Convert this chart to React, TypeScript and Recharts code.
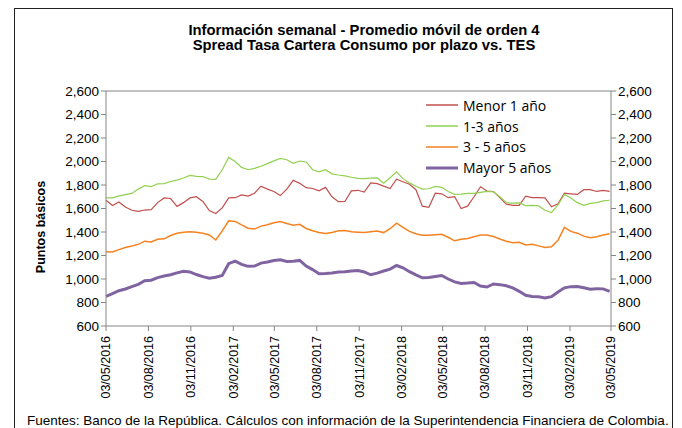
import { LineChart, Line, XAxis, YAxis, ReferenceLine } from 'recharts'

const startDate = '03/05/2016'
const stepDays = 14

const xTickLabels = [
  '03/05/2016', '03/08/2016', '03/11/2016', '03/02/2017', '03/05/2017', '03/08/2017', '03/11/2017',
  '03/02/2018', '03/05/2018', '03/08/2018', '03/11/2018', '03/02/2019', '03/05/2019',
]
const yTicks = [600, 800, 1000, 1200, 1400, 1600, 1800, 2000, 2200, 2400, 2600]

const seriesNames = ['Menor 1 año', '1-3 años', '3 - 5 años', 'Mayor 5 años']

// spread in puntos básicos, one value every two weeks
const menor1 = [
  1670, 1625, 1655, 1612, 1585, 1575, 1587, 1590, 1650, 1690,
  1685, 1618, 1650, 1690, 1700, 1660, 1582, 1558, 1605, 1690,
  1692, 1715, 1705, 1730, 1790, 1765, 1745, 1710, 1765, 1840,
  1814, 1777, 1770, 1750, 1780, 1700, 1658, 1660, 1750, 1755,
  1740, 1818, 1812, 1790, 1770, 1850, 1828, 1806, 1760, 1620,
  1610, 1730, 1725, 1692, 1700, 1600, 1620, 1700, 1785, 1749,
  1745, 1692, 1637, 1627, 1627, 1705, 1692, 1692, 1690, 1615,
  1640, 1730, 1725, 1720, 1760, 1760, 1745, 1755, 1745,
]
const entre1y3 = [
  1690, 1690, 1708, 1718, 1728, 1765, 1795, 1786, 1810, 1812,
  1830, 1842, 1860, 1882, 1874, 1872, 1850, 1848, 1930, 2035,
  2000, 1950, 1930, 1942, 1960, 1982, 2005, 2026, 2015, 1984,
  2004, 1996, 1930, 1912, 1930, 1895, 1885, 1878, 1866, 1856,
  1854, 1858, 1860, 1815, 1862, 1912, 1854, 1818, 1790, 1765,
  1768, 1788, 1780, 1744, 1720, 1722, 1729, 1729, 1738, 1746,
  1742, 1700, 1650, 1645, 1648, 1625, 1626, 1622, 1585, 1565,
  1630, 1720, 1690, 1650, 1627, 1643, 1650, 1665, 1670,
]
const entre3y5 = [
  1232, 1230, 1250, 1268, 1280, 1295, 1322, 1315, 1338, 1342,
  1370, 1390, 1398, 1402, 1398, 1390, 1375, 1332, 1410, 1495,
  1490, 1460, 1432, 1425, 1450, 1462, 1478, 1490, 1472, 1458,
  1465, 1430, 1410, 1395, 1388, 1395, 1410, 1412, 1402, 1398,
  1395, 1402, 1408, 1395, 1428, 1476, 1440, 1405, 1385, 1373,
  1372, 1377, 1380, 1355, 1325, 1338, 1345, 1360, 1375, 1375,
  1362, 1340, 1322, 1308, 1312, 1290, 1295, 1282, 1268, 1275,
  1330, 1440, 1405, 1390, 1365, 1352, 1360, 1375, 1385,
]
const mayor5 = [
  852, 875, 900, 915, 935, 955, 985, 990, 1012, 1025,
  1036, 1052, 1066, 1060, 1038, 1020, 1006, 1015, 1030, 1130,
  1152, 1125, 1108, 1110, 1135, 1145, 1158, 1164, 1150, 1152,
  1158, 1110, 1080, 1045, 1046, 1052, 1060, 1062, 1068, 1073,
  1060, 1036, 1050, 1068, 1084, 1115, 1095, 1062, 1035, 1010,
  1012, 1022, 1030, 1000, 975, 962, 965, 970, 940, 932,
  958, 952, 942, 925, 895, 862, 852, 848, 838, 850,
  890, 925, 935, 936, 925, 913, 918, 916, 895,
]

const toDay = (s: string) => {
  const [d, m, y] = s.split('/').map(Number)
  const [d0, m0, y0] = startDate.split('/').map(Number)
  return Math.round((Date.UTC(y, m - 1, d) - Date.UTC(y0, m0 - 1, d0)) / 86400000)
}

const tickDays = xTickLabels.map(toDay)
const labelByDay: Record<number, string> = {}
tickDays.forEach((d, i) => { labelByDay[d] = xTickLabels[i] })

const data = menor1.map((v, i) => ({
  day: i * stepDays,
  menor1: v,
  entre1y3: entre1y3[i],
  entre3y5: entre3y5[i],
  mayor5: mayor5[i],
}))

const colors = ['#c0504d', '#92d050', '#f58220', '#8064a2']
const widths = [1.2, 1.2, 1.5, 3]
const font = '"Liberation Sans", Arial, sans-serif'

const DateTick = (props: any) => {
  const { x, y, payload } = props
  return (
    <text
      x={x}
      y={y + 3}
      transform={`rotate(-90, ${x}, ${y + 3})`}
      textAnchor="end"
      dy="0.35em"
      fontSize={12.5}
      fontFamily={font}
      fill="#000"
    >
      {labelByDay[payload.value]}
    </text>
  )
}

const LegendBox = () => (
  <div
    style={{
      position: 'absolute', left: 426, top: 95,
      fontFamily: '"Open Sans", sans-serif', fontSize: 14, color: '#000',
    }}
  >
    {seriesNames.map((name, i) => (
      <div key={name} style={{ display: 'flex', alignItems: 'center', height: 20.8 }}>
        <svg width={32} height={6} style={{ marginRight: 5 }}>
          <line x1={0} y1={3} x2={32} y2={3} stroke={colors[i]} strokeWidth={i === 3 ? 3 : 1.5} />
        </svg>
        <span>{name}</span>
      </div>
    ))}
  </div>
)

export default function App() {
  const axisTick = { fontSize: 13.5, fontFamily: font, fill: '#000' }
  return (
    <div style={{ position: 'absolute', left: 0, top: 0, width: 682, height: 428, overflow: 'hidden', background: '#fff' }}>
      <div style={{ position: 'absolute', left: 14, top: 8, width: 657, height: 440, border: '1px solid #222' }} />
      <div
        style={{
          position: 'absolute', left: 0, top: 23, width: 728, textAlign: 'center',
          fontFamily: font, fontWeight: 'bold', fontSize: 14.8, lineHeight: '15px', color: '#000',
        }}
      >
        <div>Información semanal - Promedio móvil de orden 4</div>
        <div>Spread Tasa Cartera Consumo por plazo vs. TES</div>
      </div>
      <div
        style={{
          position: 'absolute', left: 41, top: 227, transform: 'translate(-50%, -50%) rotate(-90deg)',
          fontFamily: font, fontWeight: 'bold', fontSize: 12.5, whiteSpace: 'nowrap', color: '#000',
        }}
      >
        Puntos básicos
      </div>
      <div style={{ position: 'absolute', left: 0, top: 0 }}>
        <LineChart width={682} height={428} data={data} margin={{ top: 91, right: 11, bottom: 32, left: 46 }}>
          <XAxis
            dataKey="day"
            type="number"
            domain={[0, tickDays[tickDays.length - 1]]}
            ticks={tickDays}
            interval={0}
            tick={<DateTick />}
            height={70}
            stroke="#868686"
            tickSize={5}
          />
          <YAxis
            yAxisId="left"
            domain={[600, 2600]}
            ticks={yTicks}
            interval={0}
            width={60}
            tick={axisTick}
            tickFormatter={(v: number) => v.toLocaleString('en-US')}
            stroke="#868686"
            tickSize={5}
          />
          <YAxis
            yAxisId="right"
            orientation="right"
            domain={[600, 2600]}
            ticks={yTicks}
            interval={0}
            width={60}
            tick={axisTick}
            tickFormatter={(v: number) => v.toLocaleString('en-US')}
            stroke="#868686"
            tickSize={5}
          />
          <ReferenceLine yAxisId="left" y={2600} stroke="#868686" />
          <Line yAxisId="left" dataKey="menor1" name={seriesNames[0]} stroke={colors[0]} strokeWidth={widths[0]} dot={false} isAnimationActive={false} />
          <Line yAxisId="left" dataKey="entre1y3" name={seriesNames[1]} stroke={colors[1]} strokeWidth={widths[1]} dot={false} isAnimationActive={false} />
          <Line yAxisId="left" dataKey="entre3y5" name={seriesNames[2]} stroke={colors[2]} strokeWidth={widths[2]} dot={false} isAnimationActive={false} />
          <Line yAxisId="right" dataKey="mayor5" name={seriesNames[3]} stroke={colors[3]} strokeWidth={widths[3]} dot={false} isAnimationActive={false} />
        </LineChart>
      </div>
      <LegendBox />
      <div
        style={{
          position: 'absolute', left: 27, top: 413, fontFamily: font, fontSize: 13.5,
          whiteSpace: 'nowrap', color: '#000',
        }}
      >
        Fuentes: Banco de la República. Cálculos con información de la Superintendencia Financiera de Colombia.
      </div>
    </div>
  )
}
